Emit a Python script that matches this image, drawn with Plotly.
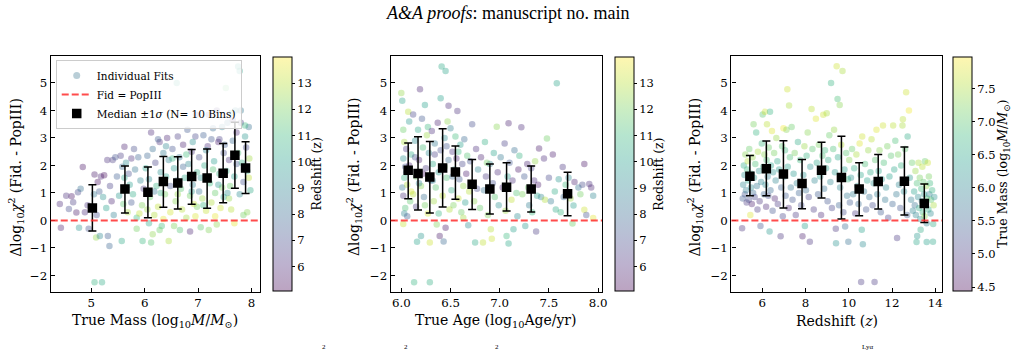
import plotly.graph_objects as go
import plotly.colors as pc

W, H = 1019, 353

# ---------------- Panel 1: true mass vs dchi2, colour = redshift ----------------
p1_mass = [4.41,4.43,4.53,4.58,4.63,4.66,4.72,4.75,4.80,4.84,4.88,4.77,4.95,4.93,5.06,5.12,5.18,5.24,5.09,5.16,
           5.31,5.34,5.06,5.20,5.05,5.10,5.22,5.28,5.35,5.40,5.45,5.42,5.15,5.30,5.48,5.38,
           5.55,5.62,5.58,5.65,5.70,5.75,5.52,5.60,5.68,5.72,5.78,5.82,5.88,5.92,5.95,5.57,5.85,5.98,5.90,5.66,5.80,5.96,5.85,5.75,5.62,
           6.12,6.05,6.02,6.08,6.10,6.12,6.15,6.18,6.15,6.20,6.22,6.25,6.28,6.30,6.32,6.35,6.38,6.40,6.42,6.45,6.48,6.05,6.25,6.35,6.45,6.30,6.18,6.40,6.48,6.08,6.28,
           6.52,6.55,6.58,6.60,6.62,6.65,6.68,6.70,6.72,6.75,6.78,6.80,6.82,6.85,6.88,6.90,6.92,6.95,6.96,6.98,6.55,6.66,6.85,6.52,6.62,6.72,6.90,6.95,6.60,6.78,6.88,6.98,
           7.02,7.05,7.08,7.10,7.12,7.15,7.18,7.20,7.22,7.25,7.28,7.30,7.32,7.35,7.38,7.40,7.42,7.45,7.48,7.05,7.20,7.35,7.45,7.15,7.28,7.40,7.02,7.32,7.48,7.25,7.38,7.10,
           7.52,7.50,7.53,7.55,7.58,7.60,7.62,7.62,7.65,7.68,7.70,7.72,7.75,7.78,7.75,7.78,7.80,7.80,7.82,7.85,7.88,7.90,7.92,7.92,7.95,7.96,7.98,7.58,7.68,7.85,7.72,7.88,7.55,7.65,7.95]
p1_dchi2 = [0.60,-0.26,0.90,0.42,0.88,0.66,0.29,1.03,1.15,1.94,0.30,-0.26,-0.30,0.55,1.67,1.40,1.60,1.64,-0.62,-0.56,
            -0.56,-0.93,-2.25,-2.25,0.95,0.20,0.85,0.45,1.25,2.20,2.30,0.20,1.05,2.20,1.60,0.70,
            2.35,2.68,1.95,2.10,1.70,2.25,0.90,0.60,0.30,1.30,0.95,1.85,2.30,1.45,0.55,-0.75,0.10,1.15,0.25,1.15,2.60,-0.75,-0.30,0.65,1.55,
            3.20,2.35,1.90,1.50,0.85,-0.80,-0.50,0.20,2.60,2.10,1.25,0.50,2.85,1.75,-0.20,2.45,0.95,1.60,3.00,2.20,0.30,0.40,2.95,0.05,-0.75,1.00,1.05,2.70,1.25,-0.10,-0.35,
            2.60,1.90,0.70,5.00,3.05,2.30,1.15,0.40,2.75,1.55,0.10,3.30,2.05,0.90,2.50,1.30,0.60,3.05,3.84,1.75,-0.20,-0.35,-0.40,2.25,0.95,1.95,2.85,0.15,1.45,2.40,1.05,0.50,
            2.30,1.55,0.80,3.10,2.00,0.35,2.70,3.84,1.35,0.65,3.35,2.15,1.00,-0.15,2.85,1.70,0.45,3.40,2.45,-0.25,-0.35,4.00,1.20,2.55,1.85,2.95,1.05,0.15,0.85,2.95,1.30,0.55,
            4.82,2.75,1.80,3.55,2.20,1.25,3.90,0.40,2.90,1.60,4.00,3.20,5.60,5.43,2.45,0.95,4.00,3.55,2.10,1.40,3.05,2.65,0.30,1.80,3.40,2.25,1.10,0.80,-0.10,0.20,2.05,3.45,1.00,3.65,1.55]
p1_z = [6.0,5.8,6.2,7.0,5.5,6.5,5.6,6.8,8.2,5.5,6.0,9.5,7.2,6.3,5.6,5.4,5.9,5.3,12.5,9.0,
        7.5,7.8,10.8,10.5,8.5,7.0,9.5,10.0,6.6,6.5,7.2,8.8,7.5,6.2,7.6,5.9,
        6.5,5.8,8.0,9.2,7.0,6.1,9.6,11.5,12.8,9.9,10.5,8.4,7.7,9.0,12.2,10.4,11.0,6.4,13.2,8.8,6.9,10.9,12.0,7.3,10.2,
        6.0,7.8,10.1,9.3,11.8,11.5,12.4,12.9,8.1,6.7,10.7,13.1,6.2,9.5,11.1,8.6,12.0,10.0,5.9,8.9,13.4,12.6,7.5,13.6,12.8,10.6,8.5,9.1,7.1,10.3,11.8,
        7.2,9.8,12.3,10.2,6.5,8.3,11.5,13.0,5.8,10.4,12.7,7.4,9.1,11.9,6.3,8.9,13.3,6.8,5.7,10.6,12.1,11.4,5.9,10.8,12.5,7.7,9.4,13.5,8.0,11.1,9.7,12.0,
        6.9,9.5,12.6,7.6,10.5,13.2,6.1,6.0,11.0,12.9,8.0,9.9,11.7,12.4,5.7,10.7,13.4,8.8,7.0,11.6,12.2,6.4,12.1,9.0,11.4,6.6,8.3,13.7,10.1,7.3,9.6,10.9,
        11.5,7.5,10.6,8.4,6.2,11.8,10.3,13.0,7.9,10.0,9.0,6.0,9.8,10.1,11.3,9.2,8.5,6.5,10.8,7.2,9.6,6.8,12.3,11.0,8.2,12.7,10.4,12.5,13.6,12.0,7.3,10.9,9.4,5.8,13.1]

p1_bin_x = [5.02,5.63,6.06,6.35,6.62,6.88,7.17,7.47,7.69,7.89]
p1_med = [0.45,1.14,1.03,1.42,1.36,1.60,1.54,1.72,2.37,1.91]
p1_hi = [1.30,1.98,1.94,2.33,2.32,2.58,2.60,2.80,3.57,2.86]
p1_lo = [-0.38,0.27,0.10,0.48,0.42,0.59,0.44,0.64,1.17,0.98]

# ---------------- Panel 2: true age vs dchi2, colour = redshift ----------------
p2_age = [6.00,6.01,6.02,6.03,6.02,6.04,6.03,6.01,6.02,6.04,6.03,6.02,6.05,6.06,6.07,6.08,6.09,6.08,6.06,6.10,6.10,6.05,
          6.12,6.13,6.14,6.15,6.16,6.15,6.17,6.18,6.19,6.20,6.20,6.21,6.22,6.23,6.24,6.25,6.26,6.27,6.28,6.29,6.29,6.30,6.12,6.18,6.24,6.14,6.27,6.22,
          6.31,6.32,6.33,6.34,6.35,6.36,6.37,6.38,6.39,6.40,6.40,6.41,6.42,6.43,6.44,6.45,6.45,6.46,6.47,6.48,6.48,6.49,6.34,6.44,6.38,6.46,6.32,
          6.50,6.51,6.52,6.53,6.54,6.55,6.56,6.57,6.58,6.59,6.60,6.61,6.62,6.63,6.64,6.65,6.66,6.67,6.68,6.69,6.52,6.58,6.63,
          6.70,6.72,6.72,6.74,6.75,6.76,6.78,6.80,6.81,6.83,6.84,6.85,6.86,6.88,6.90,6.91,6.92,6.93,6.94,6.95,6.97,6.98,6.99,6.77,6.87,
          7.01,7.03,7.05,7.06,7.07,7.08,7.09,7.09,7.10,7.12,7.13,7.14,7.15,7.17,7.18,7.19,7.20,7.22,7.23,7.25,7.26,7.28,7.29,7.30,7.32,7.33,7.35,7.36,7.37,7.38,7.39,
          7.40,7.42,7.45,7.46,7.48,7.50,7.52,7.54,7.56,7.58,7.60,7.62,7.64,7.65,7.67,7.70,7.72,7.74,7.75,7.76,7.80,7.82,7.84,7.86,7.86,7.88,7.91,7.93,7.95,7.95,7.57]
p2_dchi2 = [4.63,4.35,3.30,2.85,2.25,1.95,1.55,1.20,0.90,0.45,0.25,-0.13,2.60,1.30,3.95,2.00,0.70,3.60,0.15,2.40,1.05,1.75,
            3.85,-2.25,2.90,1.60,-0.77,0.50,3.30,2.20,4.77,-0.56,1.25,3.70,2.65,0.85,4.20,1.90,3.10,0.25,2.45,-2.25,-0.80,1.45,0.95,1.35,0.55,2.30,3.40,1.70,
            3.25,2.05,0.70,2.80,1.20,-0.15,3.55,1.75,-0.56,4.44,2.55,5.60,0.90,-0.76,3.00,5.43,-0.26,1.55,3.60,4.17,2.20,0.40,2.40,1.95,0.25,2.70,1.45,
            3.35,1.10,2.50,0.55,1.85,3.05,2.25,3.98,0.80,1.50,2.75,0.30,2.05,1.25,2.95,0.65,1.70,2.35,-0.17,1.05,1.60,2.50,0.10,
            2.15,3.50,1.35,0.70,-0.80,2.60,1.85,0.45,2.30,-0.80,1.10,2.85,1.60,0.20,2.05,-0.32,-0.66,1.35,2.45,0.85,3.41,1.75,0.55,1.15,2.10,
            2.30,1.20,2.80,0.35,-0.56,1.60,3.53,-0.84,2.10,0.75,1.45,-0.32,2.55,1.00,0.15,1.85,2.35,3.39,0.95,1.60,-0.20,2.05,1.20,0.55,1.90,0.30,1.45,2.15,-0.40,0.90,1.30,
            2.62,0.85,2.25,0.75,2.98,1.55,0.70,2.40,1.05,4.99,1.50,0.30,1.94,0.85,1.30,1.55,0.80,-0.11,0.54,1.40,1.20,0.95,1.30,2.05,0.39,0.20,1.33,1.20,0.90,0.09,0.40]
p2_z = [12.5,10.2,11.8,12.8,9.5,7.2,10.8,8.6,6.2,11.3,9.0,13.2,6.5,12.9,13.0,5.8,11.6,9.8,7.6,10.5,13.5,8.4,
        6.8,10.8,9.2,11.9,10.1,6.5,10.3,5.7,5.9,9.6,12.3,7.4,11.2,8.1,10.0,6.4,12.6,13.4,9.1,10.6,13.3,7.7,13.0,8.9,12.0,7.0,11.0,5.5,
        6.1,10.4,12.7,8.5,11.5,12.2,5.8,9.7,5.6,10.0,7.0,10.4,13.1,7.9,9.3,10.2,5.5,11.3,12.4,6.0,8.0,12.9,6.6,12.0,10.8,7.3,9.0,
        8.8,10.6,6.3,12.1,9.5,11.1,5.9,6.2,13.2,7.5,10.0,11.9,6.8,12.5,7.9,9.9,5.7,11.4,9.3,13.0,8.0,10.9,12.7,
        7.2,7.0,10.3,12.4,10.4,6.1,9.0,11.7,5.8,13.1,8.3,10.6,6.4,12.2,8.8,13.0,13.3,7.1,10.1,11.5,12.3,6.0,9.4,6.9,12.0,
        8.5,5.9,6.6,12.6,11.0,9.9,5.8,10.3,7.3,13.1,6.2,10.0,8.1,11.4,9.2,5.5,10.7,6.0,12.1,7.4,9.7,5.9,11.8,8.7,6.7,10.9,6.1,12.5,6.5,10.2,5.6,
        5.6,9.0,6.0,12.9,11.9,6.8,8.6,5.7,10.5,10.2,9.6,10.9,6.3,8.0,11.1,9.1,12.7,11.8,9.9,5.8,8.4,12.0,6.9,5.5,13.3,7.2,6.2,5.9,9.0,13.6,10.4]

p2_bin_x = [6.07,6.17,6.29,6.42,6.55,6.72,6.90,7.07,7.32,7.69]
p2_med = [1.83,1.71,1.58,1.91,1.76,1.32,1.14,1.21,1.14,0.97]
p2_hi = [2.82,3.04,2.87,3.33,2.71,2.22,2.05,2.10,1.98,1.75]
p2_lo = [0.79,0.38,0.27,0.49,0.77,0.40,0.24,0.34,0.31,0.17]

# ---------------- Panel 3: redshift vs dchi2, colour = true mass ----------------
p3_z = [5.07,5.10,5.12,5.15,5.18,5.20,5.22,5.25,5.28,5.30,5.33,5.35,5.38,5.40,5.45,5.48,5.50,5.52,5.55,5.58,5.60,5.62,5.65,5.68,5.72,5.75,5.78,5.80,5.85,5.88,5.92,5.95,5.98,
        6.02,6.05,6.08,6.10,6.12,6.15,6.18,6.20,6.22,6.25,6.28,6.30,6.34,6.36,6.38,6.40,6.45,6.48,6.50,6.55,6.58,6.62,6.65,6.70,6.72,6.78,6.85,6.88,6.92,6.95,6.98,
        7.02,7.05,7.08,7.12,7.16,7.18,7.22,7.24,7.28,7.32,7.36,7.40,7.45,7.50,7.55,7.60,7.65,7.70,7.75,7.80,7.86,7.90,7.95,7.97,
        8.02,8.05,8.10,8.15,8.20,8.22,8.28,8.32,8.38,8.42,8.48,8.52,8.58,8.62,8.68,8.72,8.78,8.82,8.86,8.90,8.95,8.98,
        9.02,9.05,9.10,9.15,9.18,9.22,9.28,9.32,9.36,9.40,9.41,9.44,9.48,9.50,9.55,9.58,9.60,9.65,9.71,9.75,9.80,9.83,9.88,9.92,9.96,9.98,
        10.02,10.05,10.10,10.15,10.20,10.25,10.30,10.35,10.40,10.45,10.50,10.55,10.57,10.60,10.62,10.65,10.70,10.75,10.80,10.85,10.90,10.95,
        11.00,11.05,11.10,11.15,11.19,11.22,11.28,11.32,11.38,11.42,11.48,11.52,11.58,11.62,11.68,11.72,11.78,11.82,11.88,11.95,
        12.02,12.05,12.10,12.15,12.20,12.23,12.28,12.32,12.38,12.42,12.48,12.50,12.55,12.60,12.65,12.70,12.72,12.78,12.82,12.88,12.92,12.96,
        13.02,13.05,13.08,13.10,13.13,13.15,13.16,13.20,13.22,13.25,13.28,13.30,13.32,13.35,13.38,13.40,13.42,13.45,13.48,13.50,
        13.52,13.55,13.58,13.60,13.62,13.65,13.68,13.70,13.72,13.75,13.78,13.80,13.85,13.89,13.90,13.92,13.95,13.60]
p3_dchi2 = [-0.28,0.80,1.30,2.00,1.65,0.95,2.40,1.10,0.65,1.85,2.15,1.45,0.75,2.60,0.20,1.20,1.70,0.60,2.30,1.00,3.50,1.55,0.85,2.05,3.20,1.25,0.40,2.50,1.80,0.70,-0.20,1.40,2.80,
            3.85,1.95,0.95,2.40,3.95,1.30,0.50,2.20,3.50,1.60,0.90,2.65,-0.40,3.95,1.10,2.00,3.25,0.35,1.75,2.45,0.80,1.45,3.00,2.15,0.60,1.85,-0.57,1.20,2.70,0.15,3.35,
            1.60,2.55,0.90,3.30,4.77,1.95,0.45,4.18,2.30,1.20,3.40,0.75,1.70,2.45,0.20,1.35,2.85,1.00,2.20,0.55,-0.57,1.65,2.70,-0.20,
            1.10,2.35,3.20,0.85,-0.77,1.95,4.05,2.60,0.40,1.45,3.70,2.10,0.95,2.75,1.60,0.20,2.35,3.84,1.15,2.55,1.90,3.90,
            0.70,2.20,3.10,1.40,5.00,0.45,2.60,3.30,1.75,-0.30,-0.83,5.61,4.42,2.30,0.55,4.20,1.20,2.75,5.43,0.30,1.85,-0.22,2.45,0.90,1.50,-0.77,
            2.20,0.65,1.55,2.60,0.95,1.90,0.25,2.40,1.25,0.60,2.80,1.65,-2.24,-0.34,3.05,-0.86,1.05,2.05,0.40,1.45,2.55,0.85,
            1.75,2.95,0.55,1.35,-2.24,2.20,3.30,0.95,1.80,2.55,0.30,1.50,3.45,2.10,0.75,1.20,2.70,0.10,1.60,2.35,
            0.60,3.45,1.85,2.90,0.95,-0.64,2.40,1.30,0.45,2.00,3.45,3.68,1.05,2.60,4.66,0.20,3.05,4.00,1.55,0.75,2.10,0.35,
            1.05,0.55,1.80,0.20,-0.78,1.35,-0.56,0.85,2.10,0.45,1.55,0.05,-0.34,1.15,0.70,1.95,0.30,1.40,0.95,0.15,
            2.15,0.60,1.25,-0.78,0.80,2.10,0.40,1.60,0.95,1.35,0.25,0.75,1.10,-0.77,-0.13,0.55,0.85,-0.10]
p3_mass = [4.9,5.4,6.0,6.6,6.2,5.3,7.3,5.9,5.0,6.8,7.6,6.4,5.2,7.1,7.8,6.1,6.5,4.7,7.4,5.6,7.2,6.3,5.1,6.9,6.7,5.8,5.0,7.5,6.2,4.9,5.3,6.0,6.8,
           7.0,6.6,5.5,7.3,7.7,6.1,4.8,6.9,7.6,5.9,5.2,7.1,6.3,6.7,5.6,6.4,7.8,5.3,6.2,7.2,4.7,6.0,7.4,6.5,5.0,6.3,4.9,5.5,7.0,5.1,7.9,
           6.1,6.8,5.4,7.3,7.7,6.4,4.8,7.5,6.9,5.8,7.1,5.3,6.3,7.2,5.0,6.0,6.6,5.5,6.8,5.2,4.7,6.2,7.4,6.4,
           5.6,6.7,7.3,5.1,4.9,6.2,7.6,7.0,5.0,6.0,7.8,6.5,5.4,7.2,6.3,4.8,6.9,7.7,5.7,6.8,6.4,7.5,
           5.3,6.6,7.1,6.0,6.7,5.1,6.9,7.4,6.3,4.9,6.2,7.7,6.9,6.5,5.5,7.3,6.0,7.6,7.5,5.2,6.4,5.6,7.0,5.8,6.7,5.7,
           7.3,5.4,6.2,7.1,5.9,6.6,5.0,7.5,6.1,5.6,7.8,6.5,5.0,6.4,7.7,6.1,5.8,6.9,5.3,6.4,7.4,5.7,
           6.6,7.6,5.2,6.2,5.0,7.0,7.8,5.9,6.5,7.3,5.4,6.3,7.7,6.9,5.8,6.1,7.2,5.1,6.4,7.0,
           5.5,7.6,6.5,6.9,5.8,5.0,7.2,6.0,5.3,6.7,7.5,7.6,6.1,7.0,7.7,5.4,6.6,7.9,6.3,5.9,7.1,6.0,
           6.4,5.7,7.4,6.0,6.5,6.9,6.3,6.1,7.5,6.6,7.2,6.2,6.6,6.8,5.9,7.6,6.7,7.0,6.3,7.3,
           7.1,6.5,7.4,6.4,6.9,7.7,6.6,7.2,5.9,6.8,6.1,7.0,6.7,6.5,6.6,7.5,6.2,6.0]

p3_bin_x = [5.43,6.19,6.98,7.84,8.74,9.66,10.48,11.36,12.57,13.49]
p3_med = [1.61,1.88,1.69,1.34,1.83,1.56,1.14,1.42,1.43,0.62]
p3_hi = [2.36,2.89,2.90,2.22,2.84,3.06,2.10,2.40,2.67,1.33]
p3_lo = [0.90,0.90,0.45,0.43,0.82,0.05,0.17,0.42,0.20,-0.07]

y_ticks = [-2, -1, 0, 1, 2, 3, 4, 5]
y_ticktext = ["\u22122", "\u22121", "0", "1", "2", "3", "4", "5"]
z_cbar_ticks = [6, 7, 8, 9, 10, 11, 12, 13]
m_cbar_ticks = [4.5, 5.0, 5.5, 6.0, 6.5, 7.0, 7.5]

for a, b, c in [(p1_mass, p1_dchi2, p1_z), (p2_age, p2_dchi2, p2_z), (p3_z, p3_dchi2, p3_mass)]:
    assert len(a) == len(b) == len(c), (len(a), len(b), len(c))

# ---------------- styling ----------------
FONT = "DejaVu Serif"
ALPHA = 0.36
TICK_FS = 11.8
LABEL_FS = 14


def rgba_scale(alpha):
    cols = pc.sequential.Viridis
    n = len(cols)
    out = []
    for i, h in enumerate(cols):
        r, g, b = pc.hex_to_rgb(h)
        out.append([i / (n - 1), f"rgba({r},{g},{b},{alpha})"])
    return out


CSCALE = rgba_scale(ALPHA)


def px_x(p):
    return p / W


def px_y(p):
    return 1 - p / H


panels = [
    dict(x0=51, x1=261, cb=274, rng=[4.24, 8.155], ticks=[5, 6, 7, 8], fmt="d",
         xs=p1_mass, ys=p1_dchi2, cs=p1_z, cmin=5.07, cmax=14.0, cticks=z_cbar_ticks, cfmt="d",
         bx=p1_bin_x, bm=p1_med, bh=p1_hi, bl=p1_lo,
         xlabel="True Mass (log<sub>10</sub><i>M</i>/<i>M</i><sub>\u2299</sub>)",
         clabel="Redshift (z)", ylab_x=16, clab_x=318),
    dict(x0=392.7, x1=605, cb=617.7, rng=[5.893, 8.04], ticks=[6.0, 6.5, 7.0, 7.5, 8.0], fmt=".1f",
         xs=p2_age, ys=p2_dchi2, cs=p2_z, cmin=5.07, cmax=14.0, cticks=z_cbar_ticks, cfmt="d",
         bx=p2_bin_x, bm=p2_med, bh=p2_hi, bl=p2_lo,
         xlabel="True Age (log<sub>10</sub>Age/yr)",
         clabel="Redshift (z)", ylab_x=356, clab_x=661),
    dict(x0=735, x1=946.7, cb=958, rng=[4.575, 14.31], ticks=[6, 8, 10, 12, 14], fmt="d",
         xs=p3_z, ys=p3_dchi2, cs=p3_mass, cmin=4.44, cmax=7.98, cticks=m_cbar_ticks, cfmt=".1f",
         bx=p3_bin_x, bm=p3_med, bh=p3_hi, bl=p3_lo,
         xlabel="Redshift (<i>z</i>)",
         clabel="True Mass (log<sub>10</sub><i>M</i>/<i>M</i><sub>\u2299</sub>)", ylab_x=698, clab_x=1008),
]

TOP, BOT = 55.7, 292
CB_TOP, CB_BOT = 57, 291

fig = go.Figure()
layout = dict(
    width=W, height=H, margin=dict(l=0, r=0, t=0, b=0),
    paper_bgcolor="white", plot_bgcolor="white",
    font=dict(family=FONT, size=TICK_FS, color="black"),
    showlegend=True,
    legend=dict(x=px_x(56), y=px_y(60), xanchor="left", yanchor="top",
                bgcolor="rgba(255,255,255,0.8)", bordercolor="#cccccc", borderwidth=1,
                font=dict(family=FONT, size=10.5), tracegroupgap=0, itemwidth=30),
)
annotations = []
shapes = []

for i, p in enumerate(panels):
    n = "" if i == 0 else str(i + 1)
    xa, ya = "x" + n, "y" + n
    layout["xaxis" + n] = dict(
        domain=[px_x(p["x0"]), px_x(p["x1"])], range=p["rng"], anchor=ya,
        tickvals=p["ticks"], tickformat=p["fmt"], ticks="inside", ticklen=4, tickwidth=1,
        tickcolor="black", showline=True, linecolor="black", linewidth=1.3, mirror=True,
        showgrid=False, zeroline=False, tickfont=dict(size=TICK_FS))
    layout["yaxis" + n] = dict(
        domain=[px_y(BOT), px_y(TOP)], range=[-2.6, 5.99], anchor=xa,
        tickvals=y_ticks, ticktext=y_ticktext, ticks="inside", ticklen=4, tickwidth=1,
        tickcolor="black", showline=True, linecolor="black", linewidth=1.3, mirror=True,
        showgrid=False, zeroline=False, tickfont=dict(size=TICK_FS))

    fig.add_trace(go.Scatter(
        x=p["xs"], y=p["ys"], mode="markers", xaxis=xa, yaxis=ya, showlegend=False,
        hoverinfo="skip",
        marker=dict(size=6.5, color=p["cs"], colorscale=CSCALE, cmin=p["cmin"], cmax=p["cmax"],
                    line=dict(width=0),
                    colorbar=dict(x=px_x(p["cb"]), xanchor="left", xpad=0, ypad=0,
                                  y=px_y(CB_TOP), yanchor="top",
                                  len=(CB_BOT - CB_TOP) / H, lenmode="fraction",
                                  thickness=19, thicknessmode="pixels",
                                  outlinewidth=1, outlinecolor="black",
                                  tickvals=p["cticks"], tickformat=p["cfmt"],
                                  ticks="outside", ticklen=3, tickcolor="black",
                                  tickfont=dict(size=11.5, family=FONT)))))

    shapes.append(dict(type="line", xref=xa + " domain", yref=ya, x0=0, x1=1, y0=0, y1=0,
                       line=dict(color="rgba(255,45,45,0.85)", width=2, dash="7px,3px"), layer="above"))

    annotations.append(dict(text=p["xlabel"], x=px_x((p["x0"] + p["x1"]) / 2), y=px_y(321),
                            xref="paper", yref="paper", showarrow=False, xanchor="center",
                            yanchor="middle", font=dict(size=LABEL_FS, family=FONT)))
    annotations.append(dict(text="\u0394log<sub>10</sub><i>\u03c7</i><sup>2</sup> (Fid. - PopIII)",
                            x=px_x(p["ylab_x"]), y=px_y((TOP + BOT) / 2 + 3),
                            xref="paper", yref="paper", showarrow=False, textangle=-90,
                            xanchor="center", yanchor="middle", font=dict(size=LABEL_FS, family=FONT)))
    annotations.append(dict(text=p["clabel"], x=px_x(p["clab_x"]), y=px_y((CB_TOP + CB_BOT) / 2),
                            xref="paper", yref="paper", showarrow=False, textangle=-90,
                            xanchor="center", yanchor="middle", font=dict(size=12.5, family=FONT)))

# legend-only entries
fig.add_trace(go.Scatter(x=[None], y=[None], mode="markers", name="Individual Fits",
                         marker=dict(size=7, color="rgba(70,125,150,0.38)"), xaxis="x", yaxis="y"))
fig.add_trace(go.Scatter(x=[None], y=[None], mode="lines", name="Fid = PopIII",
                         line=dict(color="rgba(255,45,45,0.85)", width=2, dash="7px,3px"),
                         xaxis="x", yaxis="y"))

# medians with 1-sigma error bars
for i, p in enumerate(panels):
    n = "" if i == 0 else str(i + 1)
    fig.add_trace(go.Scatter(
        x=p["bx"], y=p["bm"], mode="markers", xaxis="x" + n, yaxis="y" + n,
        name="Median \u00b11<i>\u03c3</i> (N= 10 Bins)", showlegend=(i == 0), hoverinfo="skip",
        marker=dict(symbol="square", size=9.5, color="black"),
        error_y=dict(type="data", symmetric=False,
                     array=[h - m for h, m in zip(p["bh"], p["bm"])],
                     arrayminus=[m - l for m, l in zip(p["bm"], p["bl"])],
                     color="black", thickness=1.5, width=4)))

# page header and small text fragments from the page below
annotations.append(dict(text="<i>A&amp;A proofs</i>: manuscript no. main", x=px_x(511), y=px_y(13),
                        xref="paper", yref="paper", showarrow=False, xanchor="center", yanchor="middle",
                        font=dict(family="Liberation Serif", size=18, color="black")))
for fx, ft in [(326, "2"), (408, "2"), (499, "2")]:
    annotations.append(dict(text=ft, x=px_x(fx), y=px_y(352.5), xref="paper", yref="paper",
                            showarrow=False, xanchor="center", yanchor="bottom",
                            font=dict(family="Liberation Serif", size=7, color="black")))
annotations.append(dict(text="Ly\u03b1", x=px_x(872), y=px_y(352.5), xref="paper", yref="paper",
                        showarrow=False, xanchor="center", yanchor="bottom",
                        font=dict(family="Liberation Serif", size=7, color="black")))

layout["annotations"] = annotations
layout["shapes"] = shapes
fig.update_layout(**layout)
fig.write_html("out.html")
